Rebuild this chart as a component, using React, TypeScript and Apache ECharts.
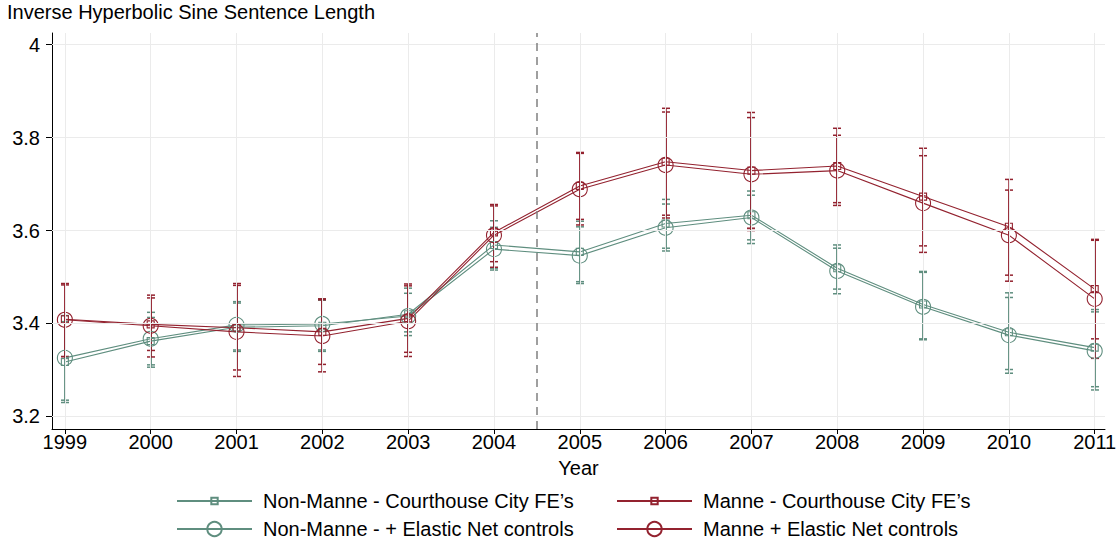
import React, { useEffect, useRef } from 'react';
import * as echarts from 'echarts';

const years = [1999, 2000, 2001, 2002, 2003, 2004, 2005, 2006, 2007, 2008, 2009, 2010, 2011];
const yTicks = [3.2, 3.4, 3.6, 3.8, 4];
const cutoffYear = 2004.5;

const nonManneFE = [3.317, 3.362, 3.392, 3.395, 3.420, 3.569, 3.554, 3.615, 3.633, 3.519, 3.441, 3.381, 3.348];
const nonManneFELo = [3.230, 3.306, 3.340, 3.340, 3.382, 3.519, 3.490, 3.562, 3.580, 3.474, 3.367, 3.301, 3.264];
const nonManneFEHi = [3.404, 3.413, 3.444, 3.450, 3.465, 3.621, 3.620, 3.667, 3.685, 3.569, 3.512, 3.466, 3.430];

const nonManneEN = [3.326, 3.367, 3.397, 3.399, 3.416, 3.560, 3.546, 3.606, 3.628, 3.513, 3.436, 3.375, 3.341];
const nonManneENLo = [3.235, 3.311, 3.343, 3.343, 3.374, 3.515, 3.486, 3.556, 3.572, 3.464, 3.365, 3.293, 3.257];
const nonManneENHi = [3.417, 3.424, 3.447, 3.453, 3.476, 3.607, 3.608, 3.657, 3.676, 3.562, 3.510, 3.456, 3.425];

const manneFE = [3.409, 3.398, 3.391, 3.382, 3.411, 3.596, 3.696, 3.748, 3.729, 3.739, 3.673, 3.608, 3.474];
const manneFELo = [3.329, 3.342, 3.300, 3.312, 3.338, 3.533, 3.624, 3.633, 3.605, 3.660, 3.567, 3.504, 3.367];
const manneFEHi = [3.486, 3.455, 3.482, 3.451, 3.485, 3.656, 3.768, 3.863, 3.854, 3.820, 3.777, 3.710, 3.581];

const manneEN = [3.408, 3.395, 3.382, 3.373, 3.405, 3.590, 3.689, 3.741, 3.721, 3.729, 3.659, 3.590, 3.453];
const manneENLo = [3.325, 3.328, 3.286, 3.296, 3.329, 3.521, 3.612, 3.627, 3.600, 3.654, 3.553, 3.491, 3.325];
const manneENHi = [3.483, 3.461, 3.486, 3.453, 3.481, 3.653, 3.766, 3.855, 3.843, 3.805, 3.761, 3.687, 3.579];

const seriesNames = [
  'Non-Manne - Courthouse City FE\u2019s',
  'Non-Manne - + Elastic Net controls',
  'Manne - Courthouse City FE\u2019s',
  'Manne + Elastic Net controls',
];

const GREEN = '#5f8e7f';
const RED = '#93222f';
const FONT = 'Liberation Sans, Arial, Helvetica, sans-serif';
const FS = 20;

function ciSeries(color: string, lo: number[], hi: number[]) {
  return {
    type: 'custom',
    silent: true,
    z: 3,
    encode: { x: 0, y: [1, 2] },
    data: years.map((yr, i) => [yr, lo[i], hi[i]]),
    renderItem: (_params: any, api: any) => {
      const x = api.value(0);
      const pLo = api.coord([x, api.value(1)]);
      const pHi = api.coord([x, api.value(2)]);
      const cx = Math.round(pLo[0]);
      const w = 4;
      const style = { stroke: color, lineWidth: 1.5 };
      return {
        type: 'group',
        children: [
          { type: 'line', shape: { x1: cx, y1: pLo[1], x2: cx, y2: pHi[1] }, style },
          { type: 'line', shape: { x1: cx - w, y1: pLo[1], x2: cx + w, y2: pLo[1] }, style },
          { type: 'line', shape: { x1: cx - w, y1: pHi[1], x2: cx + w, y2: pHi[1] }, style },
        ],
      };
    },
  };
}

function lineSeries(name: string, color: string, vals: number[], symbol: string, size: number) {
  return {
    type: 'line',
    name,
    z: 4,
    data: years.map((yr, i) => [yr, vals[i]]),
    symbol,
    symbolSize: size,
    showAllSymbol: true,
    lineStyle: { color, width: 1.1 },
    itemStyle: { color: 'transparent', borderColor: color, borderWidth: 1.1 },
    emphasis: { disabled: true },
  };
}

function legendAt(name: string, left: number, top: number, h: number) {
  return {
    data: [name],
    left,
    top,
    orient: 'horizontal',
    itemWidth: 75,
    itemHeight: h,
    padding: 0,
    selectedMode: false,
    textStyle: { fontSize: FS, color: '#000', fontFamily: FONT, padding: [0, 0, 0, 6] },
  };
}

export default function App() {
  const ref = useRef<HTMLDivElement>(null);
  useEffect(() => {
    if (!ref.current) return;
    const chart = echarts.init(ref.current, null, { renderer: 'svg' });
    chart.setOption({
      animation: false,
      backgroundColor: '#fff',
      textStyle: { fontFamily: FONT },
      title: {
        text: 'Inverse Hyperbolic Sine Sentence Length',
        left: 7,
        top: 2,
        padding: 0,
        textStyle: { fontSize: FS, fontWeight: 'normal', color: '#000', fontFamily: FONT },
      },
      grid: { left: 52, right: 15, top: 33, bottom: 117, containLabel: false },
      legend: [
        legendAt(seriesNames[0], 176, 491, 8),
        legendAt(seriesNames[2], 616, 491, 8),
        legendAt(seriesNames[1], 176, 519, 18),
        legendAt(seriesNames[3], 616, 519, 18),
      ],
      xAxis: {
        type: 'value',
        min: 1998.85,
        max: 2011.12,
        name: 'Year',
        nameLocation: 'middle',
        nameGap: 29,
        nameTextStyle: { fontSize: FS, color: '#000', fontFamily: FONT },
        axisLine: { show: true, onZero: false, lineStyle: { color: '#000', width: 1 } },
        axisTick: { show: true, length: 5, customValues: years, lineStyle: { color: '#000' } },
        axisLabel: {
          customValues: years,
          fontSize: FS,
          color: '#000',
          margin: 3,
          formatter: (v: number) => String(Math.round(v)),
        },
        splitLine: { show: false },
      },
      yAxis: {
        type: 'value',
        min: 3.173,
        max: 4.025,
        axisLine: { show: true, lineStyle: { color: '#000', width: 1 } },
        axisTick: { show: true, length: 6, customValues: yTicks, lineStyle: { color: '#000' } },
        axisLabel: {
          customValues: yTicks,
          fontSize: FS,
          color: '#000',
          margin: 12,
          formatter: (v: number) => String(Math.round(v * 10) / 10),
        },
        splitLine: { show: false },
      },
      series: [
        {
          type: 'line',
          name: '_grid',
          data: [],
          silent: true,
          z: 1,
          markLine: {
            silent: true,
            symbol: 'none',
            label: { show: false },
            animation: false,
            lineStyle: { color: '#ebebeb', width: 1, type: 'solid' },
            data: [
              ...yTicks.map((v) => ({ yAxis: v })),
              ...years.map((v) => ({ xAxis: v })),
            ],
          },
        },
        {
          type: 'line',
          name: '_cutoff',
          data: [],
          silent: true,
          z: 2,
          markLine: {
            silent: true,
            symbol: 'none',
            label: { show: false },
            animation: false,
            lineStyle: { color: '#808080', width: 1.5, type: [8, 6] },
            data: [{ xAxis: cutoffYear }],
          },
        },
        ciSeries(GREEN, nonManneFELo, nonManneFEHi),
        ciSeries(GREEN, nonManneENLo, nonManneENHi),
        ciSeries(RED, manneFELo, manneFEHi),
        ciSeries(RED, manneENLo, manneENHi),
        lineSeries(seriesNames[0], GREEN, nonManneFE, 'rect', 7),
        lineSeries(seriesNames[1], GREEN, nonManneEN, 'circle', 15),
        lineSeries(seriesNames[2], RED, manneFE, 'rect', 7),
        lineSeries(seriesNames[3], RED, manneEN, 'circle', 15),
      ],
    });
    return () => chart.dispose();
  }, []);
  return (
    <div
      ref={ref}
      style={{ position: 'fixed', left: 0, top: 0, width: 1120, height: 546, background: '#fff' }}
    />
  );
}
